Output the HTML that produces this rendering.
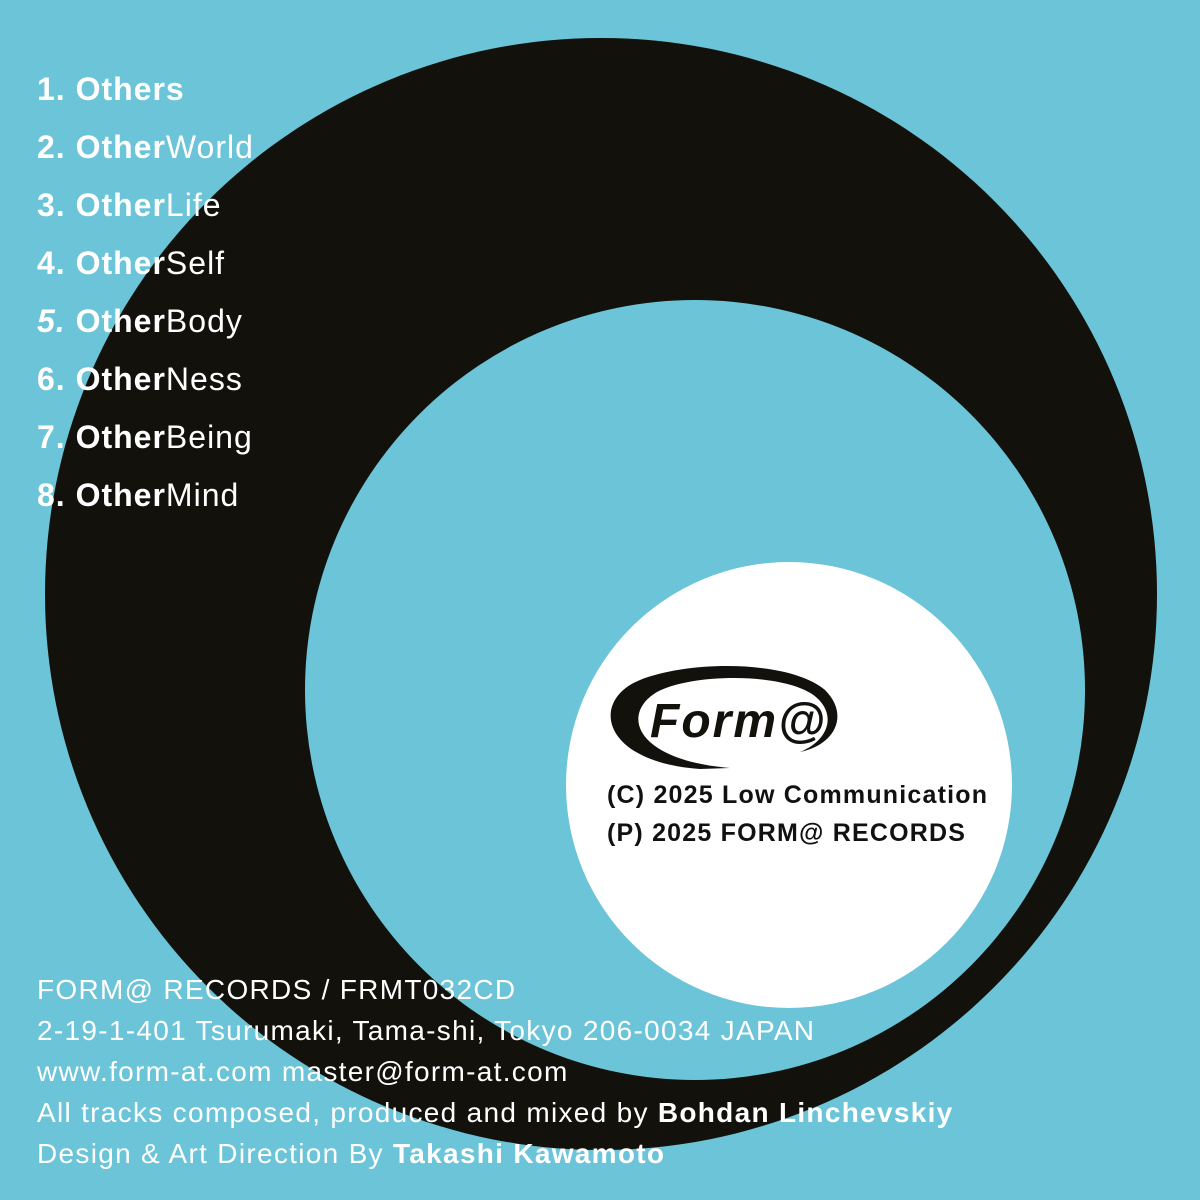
<!DOCTYPE html>
<html><head><style>
html,body{margin:0;padding:0}
body{width:1200px;height:1200px;background:#6bc4d7;position:relative;overflow:hidden;font-family:"Liberation Sans",Arial,sans-serif}
.c{position:absolute;border-radius:50%}
.t{position:absolute;left:37px;color:#fff;font-size:32px;letter-spacing:1px;white-space:nowrap;line-height:1}
.t b{font-weight:bold}
.f{position:absolute;left:37px;color:#fff;font-size:28px;letter-spacing:1.3px;white-space:nowrap;line-height:1}
.p{position:absolute;left:607px;color:#111;font-size:25px;letter-spacing:1.2px;font-weight:bold;white-space:nowrap;line-height:1}
</style></head><body>
<div class="c" style="left:45px;top:38px;width:1112px;height:1112px;background:#12110c"></div>
<div class="c" style="left:305px;top:300px;width:780px;height:780px;background:#6bc4d7"></div>
<div class="c" style="left:566px;top:562px;width:446px;height:446px;background:#fff"></div>
<svg style="position:absolute;left:0;top:0" width="1200" height="1200">
<path d="M700,769 C600,762 590,700 640,680 C690,660 790,660 825,690 C850,715 835,745 800,752 C830,740 838,712 812,694 C778,672 690,674 657,692 C620,714 635,760 730,768 Z" fill="#12110c"/>
<text x="650" y="737" font-family="Liberation Sans,sans-serif" font-size="48" font-weight="bold" font-style="italic" letter-spacing="2" fill="#12110c">Form@</text>
</svg>
<div class="t" style="top:73px"><b>1. Others</b></div>
<div class="t" style="top:131px"><b>2. Other</b>World</div>
<div class="t" style="top:189px"><b>3. Other</b>Life</div>
<div class="t" style="top:247px"><b>4. Other</b>Self</div>
<div class="t" style="top:305px"><b><i>5.</i> Other</b>Body</div>
<div class="t" style="top:363px"><b>6. Other</b>Ness</div>
<div class="t" style="top:421px"><b>7. Other</b>Being</div>
<div class="t" style="top:479px"><b>8. Other</b>Mind</div>
<div class="p" style="top:783px">(C) 2025 Low Communication</div>
<div class="p" style="top:821px">(P) 2025 FORM@ RECORDS</div>
<div class="f" style="top:976px">FORM@ RECORDS / FRMT032CD</div>
<div class="f" style="top:1017px">2-19-1-401 Tsurumaki, Tama-shi, Tokyo 206-0034 JAPAN</div>
<div class="f" style="top:1058px">www.form-at.com master@form-at.com</div>
<div class="f" style="top:1099px">All tracks composed, produced and mixed by <b>Bohdan Linchevskiy</b></div>
<div class="f" style="top:1140px">Design &amp; Art Direction By <b>Takashi Kawamoto</b></div>
</body></html>
